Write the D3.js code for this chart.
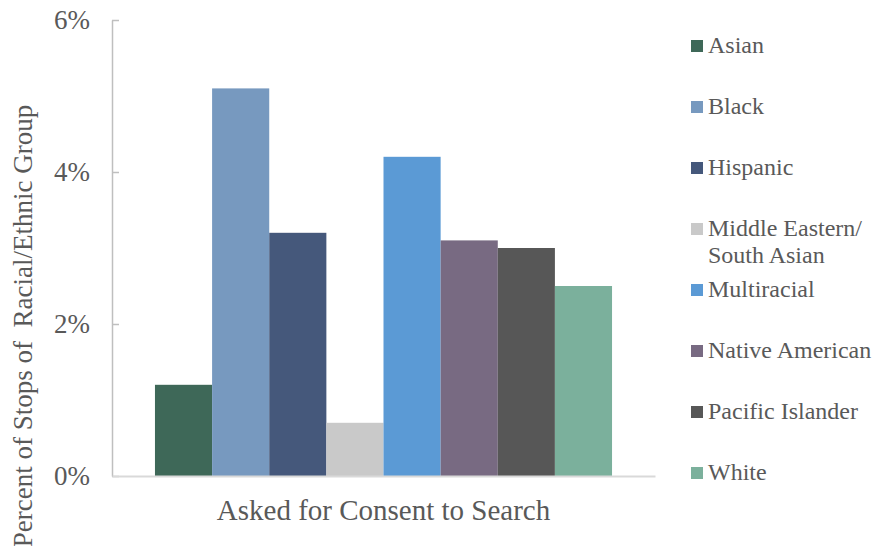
<!DOCTYPE html>
<html><head><meta charset="utf-8">
<script src="https://cdn.jsdelivr.net/npm/d3@7"></script>
<style>body{margin:0;background:#fff}svg{display:block}</style>
</head><body><svg id="c" width="875" height="546"></svg>
<script>
const categories = ["Asked for Consent to Search"];
const groups = ["Asian","Black","Hispanic","Middle Eastern/South Asian","Multiracial","Native American","Pacific Islander","White"];
const groupLabels = [["Asian"],["Black"],["Hispanic"],["Middle Eastern/","South Asian"],["Multiracial"],["Native American"],["Pacific Islander"],["White"]];
const values = [1.2, 5.1, 3.2, 0.7, 4.2, 3.1, 3.0, 2.5];
const colors = ["#3e6858","#7799bf","#45587b","#c9c9c9","#5b9ad5","#786a82","#575757","#7bb09c"];
const yTicks = [0, 2, 4, 6];

const FONT = "Liberation Serif";
const TXT = "#595959";
const svg = d3.select("#c");
const pLeft = 112, pRight = 655, pTop = 20, pBottom = 476;
const x0 = d3.scaleBand().domain(categories).range([pLeft, pRight]).paddingInner(0).paddingOuter(0.094);
const x1 = d3.scaleBand().domain(groups).range([0, x0.bandwidth()]).padding(0);
const y = d3.scaleLinear().domain([0, 6]).range([pBottom, pTop]);

// bars
const g = svg.append("g");
categories.forEach(c => {
  g.selectAll("rect.b").data(values).enter().append("rect")
    .attr("x", (d,i) => x0(c) + x1(groups[i]))
    .attr("y", d => y(d))
    .attr("width", x1.bandwidth())
    .attr("height", d => y(0) - y(d))
    .attr("fill", (d,i) => colors[i]);
});

// y axis
const ya = svg.append("g").attr("transform", `translate(${pLeft},0)`)
  .call(d3.axisLeft(y).tickValues(yTicks).tickFormat(d => d + "%").tickSizeInner(-7).tickSizeOuter(0));
ya.attr("font-family", FONT).attr("font-size", 27);
ya.select(".domain").attr("stroke", "#bfbfbf").attr("stroke-width", 1.5);
ya.selectAll(".tick line").attr("stroke", "#bfbfbf").attr("stroke-width", 1.5);
ya.selectAll(".tick text").attr("x", -22).attr("dy", "0.33em")
  .style("font-family", FONT).style("font-size", "27px").attr("fill", TXT);

// x axis
const xa = svg.append("g").attr("transform", `translate(0,${pBottom})`)
  .call(d3.axisBottom(x0).tickSize(0).tickFormat(""));
xa.select(".domain").attr("stroke", "#d9d9d9").attr("stroke-width", 2);
svg.selectAll("text.cat").data(categories).enter().append("text").attr("class","cat")
  .attr("x", d => x0(d) + x0.bandwidth()/2).attr("y", 520)
  .attr("text-anchor", "middle")
  .style("font-family", FONT).style("font-size", "29px").attr("fill", TXT).text(d => d);

// y title
svg.append("text").attr("transform", "translate(32,326) rotate(-90)")
  .attr("text-anchor", "middle").style("white-space", "pre")
  .style("font-family", FONT).style("font-size", "27px").attr("fill", TXT)
  .text("Percent of Stops of  Racial/Ethnic Group");

// legend
const lg = svg.append("g");
groups.forEach((gname, i) => {
  const cy = 46 + i * 61.0;
  lg.append("rect").attr("x", 691).attr("y", cy - 6).attr("width", 12).attr("height", 12).attr("fill", colors[i]);
  const t = lg.append("text").attr("x", 708).attr("y", cy + 7)
    .style("font-family", FONT).style("font-size", "24px").attr("fill", TXT);
  groupLabels[i].forEach((ln, j) => t.append("tspan").attr("x", 708).attr("dy", j === 0 ? 0 : 27).text(ln));
});
</script></body></html>
